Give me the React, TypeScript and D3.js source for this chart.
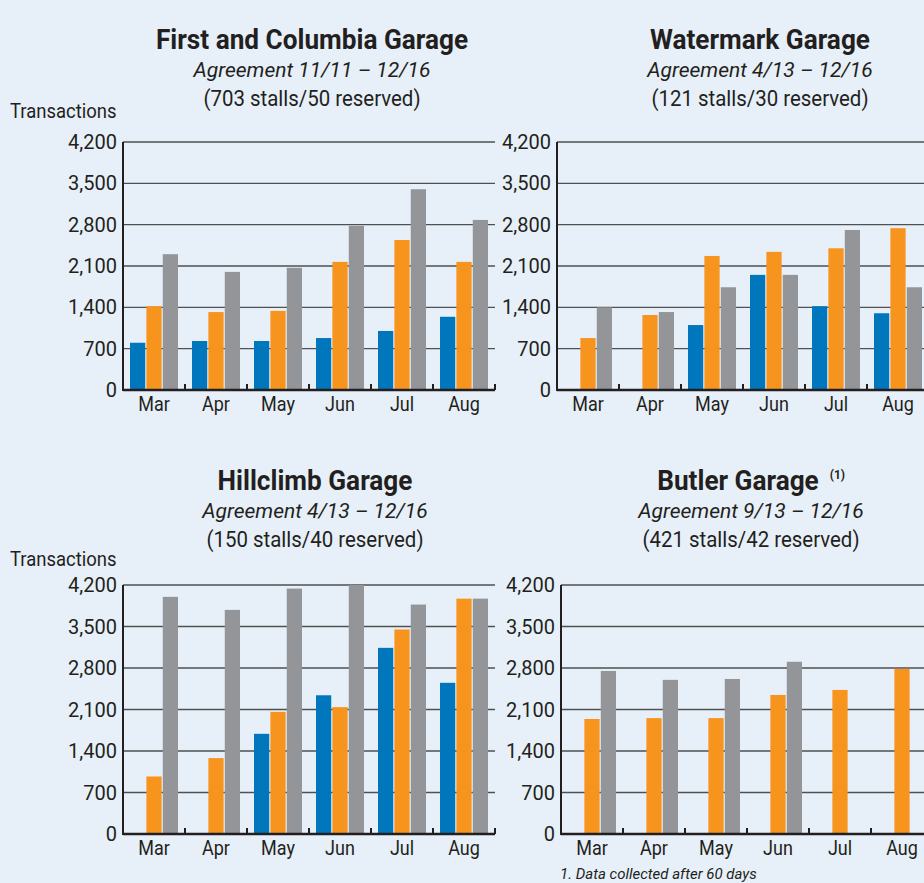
import React, { useEffect, useRef } from 'react';
import * as d3 from 'd3';

const months = ['Mar', 'Apr', 'May', 'Jun', 'Jul', 'Aug'];
const series = ['blue', 'orange', 'gray'];
const yTicks = [0, 700, 1400, 2100, 2800, 3500, 4200];

// First and Columbia
const firstBlue = [800, 830, 830, 880, 1000, 1240];
const firstOrange = [1420, 1320, 1340, 2170, 2540, 2170];
const firstGray = [2300, 2000, 2070, 2780, 3400, 2880];

// Watermark
const waterBlue = [0, 0, 1100, 1950, 1420, 1300];
const waterOrange = [880, 1270, 2270, 2340, 2400, 2740];
const waterGray = [1400, 1320, 1740, 1950, 2710, 1740];

// Hillclimb
const hillBlue = [0, 0, 1690, 2340, 3140, 2550];
const hillOrange = [970, 1280, 2060, 2140, 3450, 3970];
const hillGray = [4000, 3780, 4140, 4200, 3870, 3970];

// Butler
const butlerBlue = [0, 0, 0, 0, 0, 0];
const butlerOrange = [1940, 1955, 1955, 2345, 2430, 2785];
const butlerGray: (number | null)[] = [2750, 2600, 2615, 2905, null, null];

const colors: Record<string, string> = { blue: '#0077bd', orange: '#f7941e', gray: '#939598' };

const panels = [
  {
    title: 'First and Columbia Garage', note: '', agreement: 'Agreement 11/11 – 12/16', stalls: '(703 stalls/50 reserved)',
    values: [firstBlue, firstOrange, firstGray], axisX: 123, yTop: 142, yBot: 390, titleX: 312, titleY: 49, yLabelY: 118,
  },
  {
    title: 'Watermark Garage', note: '', agreement: 'Agreement 4/13 – 12/16', stalls: '(121 stalls/30 reserved)',
    values: [waterBlue, waterOrange, waterGray], axisX: 557, yTop: 142, yBot: 390, titleX: 760, titleY: 49, yLabelY: 0,
  },
  {
    title: 'Hillclimb Garage', note: '', agreement: 'Agreement 4/13 – 12/16', stalls: '(150 stalls/40 reserved)',
    values: [hillBlue, hillOrange, hillGray], axisX: 123, yTop: 585, yBot: 834, titleX: 315, titleY: 490, yLabelY: 566,
  },
  {
    title: 'Butler Garage', note: '(1)', agreement: 'Agreement 9/13 – 12/16', stalls: '(421 stalls/42 reserved)',
    values: [butlerBlue, butlerOrange, butlerGray], axisX: 561, yTop: 585, yBot: 834, titleX: 751, titleY: 490, yLabelY: 0,
  },
];

const font = 'Roboto, sans-serif';

// squeeze text horizontally to mimic the condensed face of the original
const condense = (sel: d3.Selection<SVGTextElement, any, any, any>, k: number) => {
  let last = 0;
  sel.each(function () {
    const w = (this as SVGTextContentElement).getComputedTextLength();
    last = w * k;
    d3.select(this).attr('textLength', last).attr('lengthAdjust', 'spacingAndGlyphs');
  });
  return last;
};

const App = () => {
  const svgRef = useRef<SVGSVGElement>(null);

  useEffect(() => {
    const svg = d3.select(svgRef.current);
    svg.selectAll('*').remove();

    svg.append('rect').attr('width', 924).attr('height', 883).attr('fill', '#e7f0f8');

    panels.forEach(p => {
      const g = svg.append('g').attr('font-family', font).attr('fill', '#231f20');
      const width = 372;

      const x0 = d3.scaleBand<string>().domain(months).range([p.axisX, p.axisX + width]).paddingInner(0);
      const x1 = d3.scaleBand<string>().domain(series).range([7, 55]).paddingInner(0.07);
      const y = d3.scaleLinear().domain([0, 4200]).range([p.yBot, p.yTop]);

      // gridlines
      g.selectAll('line.grid')
        .data(yTicks.slice(1))
        .enter()
        .append('line')
        .attr('x1', p.axisX)
        .attr('x2', p.axisX + width)
        .attr('y1', d => y(d))
        .attr('y2', d => y(d))
        .attr('stroke', '#4f5052')
        .attr('stroke-width', 1.3);

      // y tick labels
      g.selectAll('text.ytick')
        .data(yTicks)
        .enter()
        .append('text')
        .attr('x', p.axisX - 6)
        .attr('y', d => y(d) + 7)
        .attr('text-anchor', 'end')
        .attr('font-size', 20)
        .text(d => d3.format(',')(d));

      // bars
      series.forEach((s, si) => {
        g.selectAll(`rect.s${si}`)
          .data(p.values[si].map((v, i) => ({ m: months[i], v })))
          .enter()
          .filter(d => d.v != null && d.v > 0)
          .append('rect')
          .attr('x', d => (x0(d.m) as number) + (x1(s) as number))
          .attr('y', d => y(d.v as number))
          .attr('width', x1.bandwidth())
          .attr('height', d => p.yBot - y(d.v as number))
          .attr('fill', colors[s]);
      });

      // axes
      g.append('line')
        .attr('x1', p.axisX).attr('x2', p.axisX)
        .attr('y1', p.yTop).attr('y2', p.yBot + 1)
        .attr('stroke', '#231f20').attr('stroke-width', 2);
      g.append('line')
        .attr('x1', p.axisX).attr('x2', p.axisX + width)
        .attr('y1', p.yBot).attr('y2', p.yBot)
        .attr('stroke', '#231f20').attr('stroke-width', 2.5);
      g.selectAll('line.xtick')
        .data(months.slice(1).map(m => x0(m) as number).concat([p.axisX + width]))
        .enter()
        .append('line')
        .attr('x1', d => d).attr('x2', d => d)
        .attr('y1', p.yBot - 6).attr('y2', p.yBot)
        .attr('stroke', '#231f20').attr('stroke-width', 2);

      // month labels
      const ml = g.selectAll('text.xtick')
        .data(months)
        .enter()
        .append('text')
        .attr('x', d => (x0(d) as number) + x0.bandwidth() / 2)
        .attr('y', p.yBot + 21)
        .attr('text-anchor', 'middle')
        .attr('font-size', 20)
        .text(d => d);
      condense(ml as any, 0.9);

      // titles
      const t = g.append('text')
        .attr('x', p.titleX)
        .attr('y', p.titleY)
        .attr('text-anchor', 'middle')
        .attr('font-size', 28)
        .attr('font-weight', 'bold')
        .text(p.title);
      const tw = condense(t as any, 0.935);
      if (p.note) {
        // superscript footnote marker to the right; shift the title left so both stay centred
        const shift = 13;
        t.attr('x', p.titleX - shift);
        g.append('text')
          .attr('x', p.titleX - shift + tw / 2 + 11)
          .attr('y', p.titleY - 11)
          .attr('font-size', 12)
          .attr('font-weight', 'bold')
          .text(p.note);
      }
      g.append('text')
        .attr('x', p.titleX)
        .attr('y', p.titleY + 28)
        .attr('text-anchor', 'middle')
        .attr('font-size', 21)
        .attr('font-style', 'italic')
        .text(p.agreement);
      const st = g.append('text')
        .attr('x', p.titleX)
        .attr('y', p.titleY + 57)
        .attr('text-anchor', 'middle')
        .attr('font-size', 21.5)
        .text(p.stalls);
      condense(st as any, 0.95);

      if (p.yLabelY) {
        const yl = g.append('text')
          .attr('x', 10)
          .attr('y', p.yLabelY)
          .attr('font-size', 21)
          .text('Transactions');
        condense(yl as any, 0.88);
      }
    });

    svg.append('text')
      .attr('x', 560)
      .attr('y', 879)
      .attr('font-family', font)
      .attr('font-size', 15)
      .attr('font-style', 'italic')
      .attr('fill', '#231f20')
      .text('1. Data collected after 60 days');
  }, []);

  return (
    <svg ref={svgRef} width={924} height={883} style={{ position: 'absolute', left: 0, top: 0 }}></svg>
  );
};

export default App;
